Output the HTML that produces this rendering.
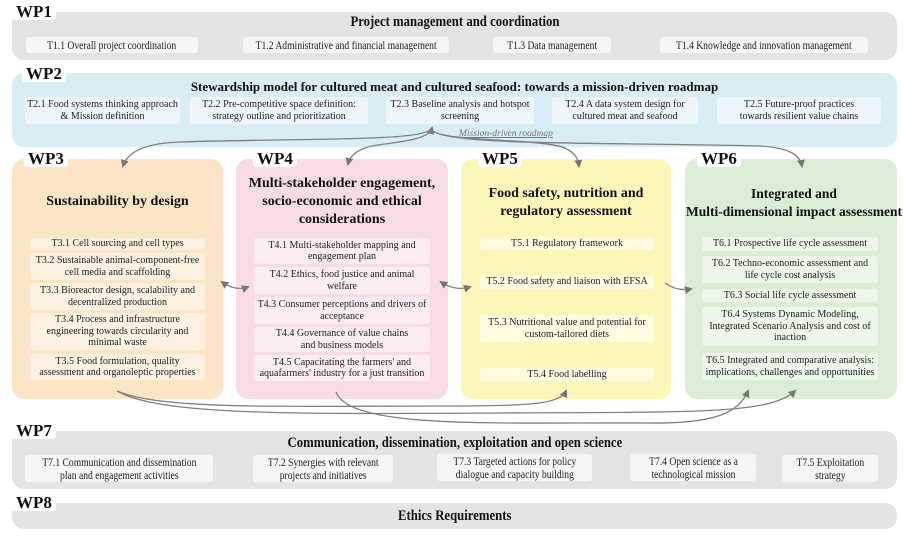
<!DOCTYPE html>
<html><head><meta charset="utf-8"><style>
*{margin:0;padding:0;box-sizing:border-box}
body{width:903px;height:537px;background:#fff;position:relative;overflow:hidden;font-family:"Liberation Serif",serif;color:#222}
.b{position:absolute;border-radius:12px}
.lab{position:absolute;font-weight:bold;font-size:17px;background:#fff;padding:0 4px;line-height:17px;color:#111;border-radius:3px}
.t{position:absolute;display:flex;align-items:center;justify-content:center;text-align:center;font-size:10px;line-height:11.5px;border-radius:3px}
.h{position:absolute;font-weight:bold;text-align:center;font-size:14px;line-height:18px;color:#111}
.g .t{background:#f6f6f6}
.c{display:inline-block;transform:scaleX(0.8);white-space:nowrap;font-size:12px;line-height:13px}
.hc{display:inline-block;transform:scaleX(0.85);white-space:nowrap;font-size:15px}
.w2 .t{background:#eef6fa}
</style></head><body>
<!-- WP1 -->
<div class="b" style="left:12px;top:12px;width:885px;height:48px;background:#e4e4e4"></div>
<div class="lab" style="left:12px;top:3px">WP1</div>
<div class="h" style="left:12px;top:13px;width:885px"><span class="hc">Project management and coordination</span></div>
<div class="g">
<div class="t" style="left:26px;top:37px;width:172px;height:16px"><span class="c">T1.1 Overall project coordination</span></div>
<div class="t" style="left:243px;top:37px;width:206px;height:16px"><span class="c">T1.2 Administrative and financial management</span></div>
<div class="t" style="left:493px;top:37px;width:118px;height:16px"><span class="c">T1.3 Data management</span></div>
<div class="t" style="left:660px;top:37px;width:208px;height:16px"><span class="c">T1.4 Knowledge and innovation management</span></div>
</div>
<!-- WP2 -->
<div class="b" style="left:12px;top:73px;width:885px;height:74px;background:#d9edf5"></div>
<div class="lab" style="left:22px;top:65px">WP2</div>
<div class="h" style="left:12px;top:78px;width:885px;font-size:13px">Stewardship model for cultured meat and cultured seafood: towards a mission-driven roadmap</div>
<div class="w2">
<div class="t" style="left:25px;top:97px;width:155px;height:27px">T2.1 Food systems thinking approach &amp; Mission definition</div>
<div class="t" style="left:190px;top:97px;width:178px;height:27px">T2.2 Pre-competitive space definition: strategy outline and prioritization</div>
<div class="t" style="left:386px;top:97px;width:148px;height:27px">T2.3 Baseline analysis and hotspot screening</div>
<div class="t" style="left:552px;top:97px;width:146px;height:27px">T2.4 A data system design for cultured meat and seafood</div>
<div class="t" style="left:717px;top:97px;width:164px;height:27px;padding:0 12px">T2.5 Future-proof practices towards resilient value chains</div>
</div>
<div style="position:absolute;left:459px;top:129px;font-size:9.5px;font-style:italic;color:#777;text-decoration:underline">Mission-driven roadmap</div>
<!-- WP3 -->
<div class="b" style="left:12px;top:159px;width:211px;height:240px;background:#fbe5c5"></div>
<div class="lab" style="left:24px;top:150px">WP3</div>
<div class="h" style="left:12px;top:193px;width:211px">Sustainability by design</div>
<div class="t" style="left:30px;top:238px;width:175px;height:12px;background:#fdf1e2">T3.1 Cell sourcing and cell types</div>
<div class="t" style="left:30px;top:253px;width:175px;height:27px;background:#fdf1e2">T3.2 Sustainable animal-component-free cell media and scaffolding</div>
<div class="t" style="left:30px;top:283px;width:175px;height:27px;background:#fdf1e2">T3.3 Bioreactor design, scalability and decentralized production</div>
<div class="t" style="left:30px;top:313px;width:175px;height:37px;background:#fdf1e2;padding:0 12px">T3.4 Process and infrastructure engineering towards circularity and minimal waste</div>
<div class="t" style="left:30px;top:354px;width:175px;height:26px;background:#fdf1e2;padding:0 4px">T3.5 Food formulation, quality assessment and organoleptic properties</div>
<!-- WP4 -->
<div class="b" style="left:236px;top:159px;width:212px;height:240px;background:#f9dbe6"></div>
<div class="lab" style="left:253px;top:150px">WP4</div>
<div class="h" style="left:246px;top:175px;width:192px">Multi-stakeholder engagement, socio-economic and ethical considerations</div>
<div class="t" style="left:254px;top:238px;width:176px;height:26px;background:#fcedf2;padding:0 14px">T4.1 Multi-stakeholder mapping and engagement plan</div>
<div class="t" style="left:254px;top:267px;width:176px;height:27px;background:#fcedf2;padding:0 12px">T4.2 Ethics, food justice and animal welfare</div>
<div class="t" style="left:254px;top:297px;width:176px;height:27px;background:#fcedf2">T4.3 Consumer perceptions and drivers of acceptance</div>
<div class="t" style="left:254px;top:327px;width:176px;height:25px;background:#fcedf2;padding:0 14px">T4.4 Governance of value chains and business models</div>
<div class="t" style="left:254px;top:355px;width:176px;height:26px;background:#fcedf2">T4.5 Capacitating the farmers' and aquafarmers' industry for a just transition</div>
<!-- WP5 -->
<div class="b" style="left:461px;top:159px;width:210px;height:240px;background:#fdf6b9"></div>
<div class="lab" style="left:478px;top:150px">WP5</div>
<div class="h" style="left:476px;top:185px;width:180px">Food safety, nutrition and regulatory assessment</div>
<div class="t" style="left:480px;top:237px;width:174px;height:13px;background:#fefbe0">T5.1 Regulatory framework</div>
<div class="t" style="left:480px;top:275px;width:174px;height:14px;background:#fefbe0">T5.2 Food safety and liaison with EFSA</div>
<div class="t" style="left:480px;top:315px;width:174px;height:27px;background:#fefbe0">T5.3 Nutritional value and potential for custom-tailored diets</div>
<div class="t" style="left:480px;top:368px;width:174px;height:13px;background:#fefbe0">T5.4 Food labelling</div>
<!-- WP6 -->
<div class="b" style="left:685px;top:159px;width:212px;height:240px;background:#dcedd5"></div>
<div class="lab" style="left:697px;top:150px">WP6</div>
<div class="h" style="left:685px;top:185px;width:218px;white-space:nowrap;font-size:13.5px">Integrated and<br>Multi-dimensional impact assessment</div>
<div class="t" style="left:702px;top:237px;width:176px;height:14px;background:#eef6ea">T6.1 Prospective life cycle assessment</div>
<div class="t" style="left:702px;top:256px;width:176px;height:27px;background:#eef6ea;padding:0 8px">T6.2 Techno-economic assessment and life cycle cost analysis</div>
<div class="t" style="left:702px;top:289px;width:176px;height:13px;background:#eef6ea">T6.3 Social life cycle assessment</div>
<div class="t" style="left:702px;top:307px;width:176px;height:39px;background:#eef6ea;padding:0 6px">T6.4 Systems Dynamic Modeling, Integrated Scenario Analysis and cost of inaction</div>
<div class="t" style="left:702px;top:353px;width:176px;height:27px;background:#eef6ea">T6.5 Integrated and comparative analysis: implications, challenges and opportunities</div>
<!-- WP7 -->
<div class="b" style="left:12px;top:431px;width:885px;height:58px;background:#e4e4e4"></div>
<div class="lab" style="left:12px;top:422px">WP7</div>
<div class="h" style="left:12px;top:434px;width:885px"><span class="hc">Communication, dissemination, exploitation and open science</span></div>
<div class="g">
<div class="t" style="left:25px;top:455px;width:188px;height:27px"><span class="c">T7.1 Communication and dissemination<br>plan and engagement activities</span></div>
<div class="t" style="left:253px;top:455px;width:140px;height:27px"><span class="c">T7.2 Synergies with relevant<br>projects and initiatives</span></div>
<div class="t" style="left:437px;top:454px;width:155px;height:27px"><span class="c">T7.3 Targeted actions for policy<br>dialogue and capacity building</span></div>
<div class="t" style="left:630px;top:454px;width:126px;height:27px"><span class="c">T7.4 Open science as a<br>technological mission</span></div>
<div class="t" style="left:782px;top:455px;width:96px;height:27px"><span class="c">T7.5 Exploitation<br>strategy</span></div>
</div>
<!-- WP8 -->
<div class="b" style="left:12px;top:503px;width:885px;height:26px;background:#e4e4e4"></div>
<div class="lab" style="left:12px;top:494px">WP8</div>
<div class="h" style="left:12px;top:507px;width:885px"><span class="hc">Ethics Requirements</span></div>
<svg width="903" height="537" style="position:absolute;left:0;top:0" fill="none" stroke="#808080" stroke-width="1.3">
<defs><marker id="a" markerWidth="8" markerHeight="8" refX="6" refY="4" orient="auto" markerUnits="userSpaceOnUse"><path d="M0,0 L8,4 L0,8 Z" fill="#777" stroke="none"/></marker>
<marker id="s" markerWidth="8" markerHeight="8" refX="2" refY="4" orient="auto" markerUnits="userSpaceOnUse"><path d="M8,0 L0,4 L8,8 Z" fill="#777" stroke="none"/></marker></defs>
<path d="M432,128 C428,142 300,138 180,142 C150,143 128,150 123,166" marker-start="url(#s)" marker-end="url(#a)"/>
<path d="M432,130 C420,144 380,142 365,148 C355,152 350,156 348,164" marker-end="url(#a)"/>
<path d="M432,130 C440,142 540,138 565,148 C575,153 578,158 579,166" marker-end="url(#a)"/>
<path d="M432,130 C445,146 600,142 760,146 C790,148 800,155 802,166" marker-end="url(#a)"/>
<path d="M222,282 C230,288 240,290 248,287" marker-start="url(#s)" marker-end="url(#a)"/>
<path d="M441,282 C450,288 460,290 470,287" marker-start="url(#s)" marker-end="url(#a)"/>
<path d="M665,283 C672,288 680,291 691,289" marker-end="url(#a)"/>
<path d="M117,391 C160,410 280,406 450,406 C530,406 560,404 566,391" marker-end="url(#a)"/>
<path d="M117,391 C160,416 300,414 500,413 C700,412 770,414 795,391" marker-end="url(#a)"/>
<path d="M336,392 C350,430 500,422 650,423 C720,424 740,410 748,391" marker-end="url(#a)"/>
</svg>
</body></html>
